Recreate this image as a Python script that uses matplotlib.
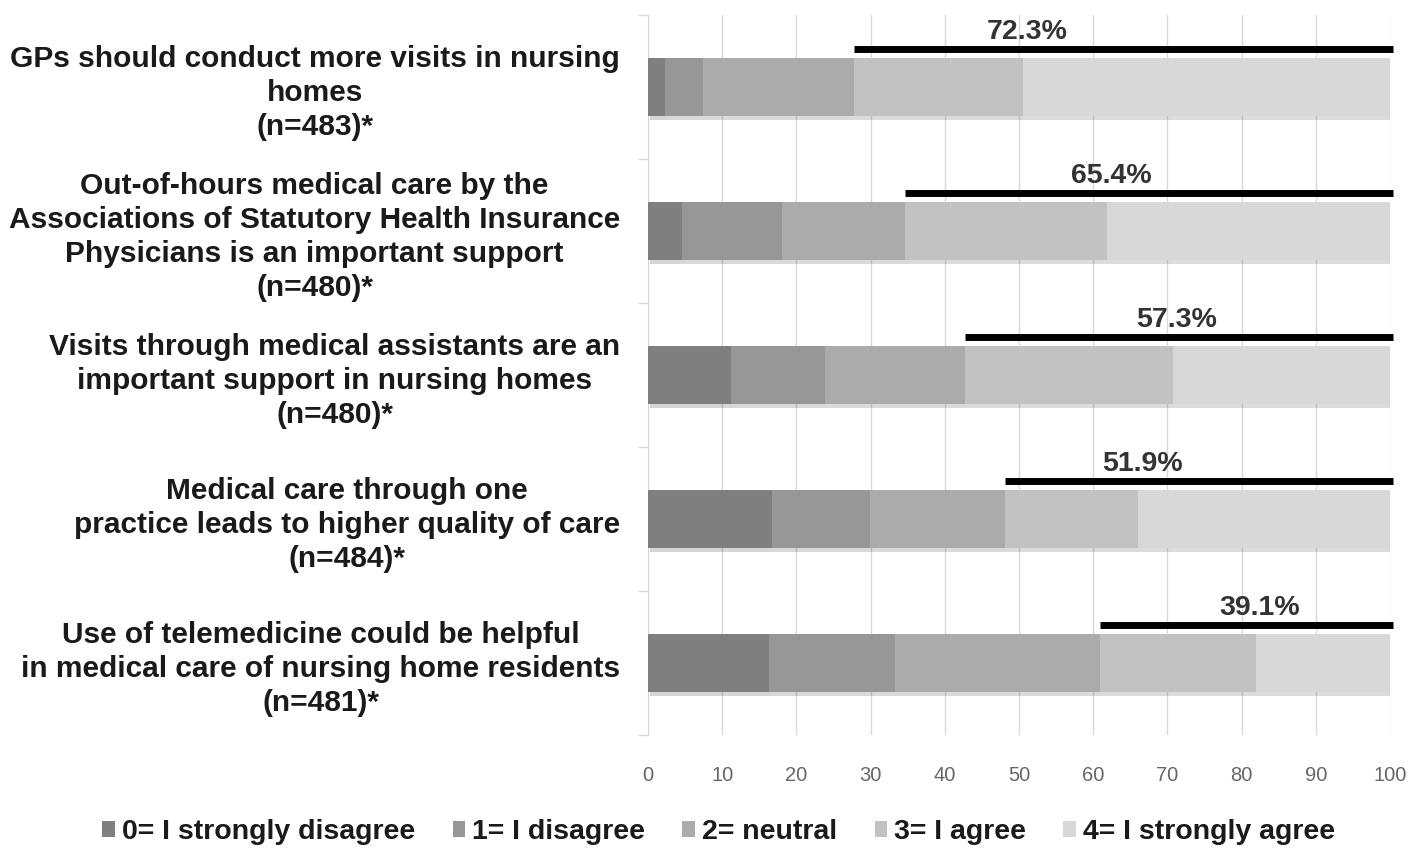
import matplotlib
matplotlib.use("Agg")
import matplotlib.pyplot as plt
import matplotlib.patheffects as pe
from matplotlib.patches import Patch
import numpy as np

plt.rcParams['font.family'] = ['Liberation Sans', 'DejaVu Sans']

categories = [
    "GPs should conduct more visits in nursing\nhomes\n(n=483)*",
    "Out-of-hours medical care by the\nAssociations of Statutory Health Insurance\nPhysicians is an important support\n(n=480)*",
    "Visits through medical assistants are an\nimportant support in nursing homes\n(n=480)*",
    "Medical care through one\npractice leads to higher quality of care\n(n=484)*",
    "Use of telemedicine could be helpful\nin medical care of nursing home residents\n(n=481)*",
]
series_names = ["0= I strongly disagree", "1= I disagree", "2= neutral",
                "3= I agree", "4= I strongly agree"]
strongly_disagree = [2.3, 4.6, 11.2, 16.7, 16.3]
disagree = [5.1, 13.4, 12.6, 13.2, 17.0]
neutral = [20.3, 16.6, 18.9, 18.2, 27.6]
agree = [22.9, 27.3, 28.1, 18.0, 21.0]
strongly_agree = [49.4, 38.1, 29.2, 33.9, 18.1]
agreement_pct = [72.3, 65.4, 57.3, 51.9, 39.1]
agreement_labels = ["72.3%", "65.4%", "57.3%", "51.9%", "39.1%"]
x_ticks = [0, 10, 20, 30, 40, 50, 60, 70, 80, 90, 100]

colors = ["#7f7f7f", "#979797", "#ababab", "#c2c2c2", "#d8d8d8"]

W, H = 1418, 856
fig = plt.figure(figsize=(W / 100, H / 100), dpi=100)
ax = fig.add_axes([648 / W, 1 - 735 / H, (1390 - 648) / W, 720 / H])

y = np.arange(len(categories))
series = [strongly_disagree, disagree, neutral, agree, strongly_agree]
left = np.zeros(len(categories))
bar_h = 0.40
cum_agree_end = None
for i, (vals, c, name) in enumerate(zip(series, colors, series_names)):
    vals = np.array(vals)
    ax.barh(y, vals, left=left, height=bar_h, color=c, edgecolor='none',
            zorder=3,
            path_effects=[pe.SimplePatchShadow(offset=(1.5, -3), alpha=0.18),
                          pe.Normal()])
    left = left + vals
    if i == 3:
        cum_agree_end = left.copy()

# agreement brackets
for yi, pct, lab, tx in zip(y, agreement_pct, agreement_labels, cum_agree_end):
    ly = yi - bar_h / 2 - 0.065
    ax.plot([100 - pct, 100.4], [ly, ly], color='black', lw=5,
            solid_capstyle='butt', zorder=4, clip_on=False)
    ax.text(tx + 0.5, ly - 0.025, lab, ha='center', va='bottom', fontsize=20.5,
            fontweight='bold', color='#333333', zorder=5)

ax.set_xlim(0, 100)
ax.set_ylim(len(categories) - 0.5, -0.5)
ax.set_xticks(x_ticks)
ax.set_xticklabels([str(t) for t in x_ticks], fontsize=14.5, color='#666666')
ax.tick_params(axis='x', length=0, pad=22)
ax.set_yticks(y)
ax.set_yticklabels(categories, fontsize=21.5, fontweight='bold', color='#1a1a1a',
                   multialignment='center', linespacing=1.27)
ax.tick_params(axis='y', which='major', length=0, pad=20)
ax.set_yticks(np.arange(len(categories) + 1) - 0.5, minor=True)
ax.tick_params(axis='y', which='minor', length=7, color='#d9d9d9', width=1)

ax.grid(axis='x', color='#d9d9d9', lw=1, zorder=0)
ax.set_axisbelow(True)
for s in ['top', 'right', 'bottom']:
    ax.spines[s].set_visible(False)
ax.spines['left'].set_color('#d9d9d9')

handles = [Patch(facecolor=c, edgecolor='none', label=n)
           for c, n in zip(colors, series_names)]
fig.legend(handles=handles, loc='center', bbox_to_anchor=(0.507, 1 - 832 / H),
           ncol=5, frameon=False, prop={'size': 20.5, 'weight': 'bold'},
           handlelength=0.45, handleheight=0.45,
           handletextpad=0.25, columnspacing=1.3, labelcolor='#1a1a1a')

fig.savefig("out.png", dpi=100, facecolor='white')
